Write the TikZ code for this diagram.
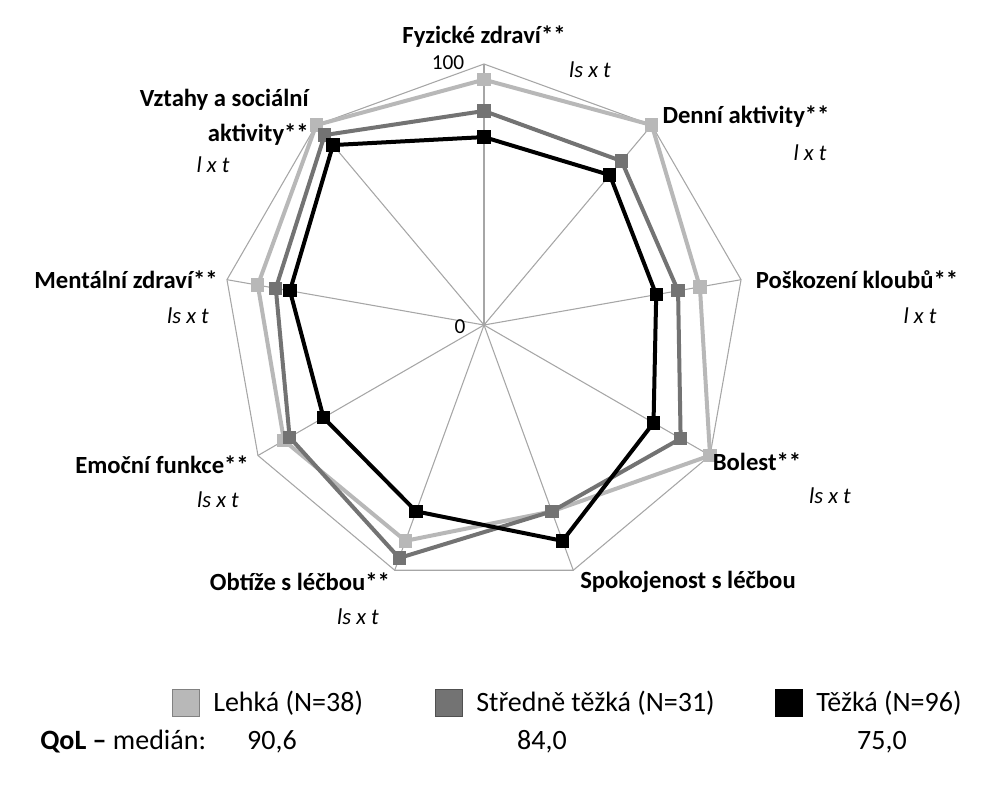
\documentclass[tikz,border=0pt]{standalone}
\usepackage{fontspec}
\setmainfont{Carlito}
\usetikzlibrary{calc}
\begin{document}
\begin{tikzpicture}[x=0.75pt,y=-0.75pt,
  grid/.style={draw=gray!70,line width=0.8pt},
  lab/.style={font=\fontsize{18.5}{22}\selectfont\bfseries,inner sep=0pt},
  sub/.style={font=\fontsize{17}{20}\selectfont\itshape,inner sep=0pt},
  leg/.style={font=\fontsize{21}{24}\selectfont,anchor=west,inner sep=0pt},
  val/.style={font=\fontsize{21}{24}\selectfont,inner sep=0pt},
  mk/.style={minimum size=10pt,inner sep=0pt,draw=none}]
\useasboundingbox (0,0) rectangle (983,800);
\colorlet{cL}{black!28}\colorlet{cM}{black!55}\colorlet{cD}{black}
\def\R{261}
\coordinate (O) at (484,325);
\foreach \i in {0,...,8}{
  \coordinate (v\i) at ($(O)+({sin(40*\i)*\R},{-cos(40*\i)*\R})$);
  \draw[grid] (O) -- (v\i);}
\draw[grid] (v0)--(v1)--(v2)--(v3)--(v4)--(v5)--(v6)--(v7)--(v8)--cycle;
% series
\newcommand\series[3]{%
  \foreach \v [count=\i from 0] in {#2}{
    \coordinate (#1\i) at ($(O)+({sin(40*\i)*\R*\v},{-cos(40*\i)*\R*\v})$);}
  \draw[#3,line width=3pt,line join=round] (#10)--(#11)--(#12)--(#13)--(#14)--(#15)--(#16)--(#17)--(#18)--cycle;
  \foreach \i in {0,...,8}{\node[mk,fill=#3] at (#1\i) {};}}
\series{L}{0.94,1.0,0.84,1.0,0.76,0.88,0.885,0.88,1.0}{cL}
\series{M}{0.82,0.82,0.755,0.87,0.76,0.95,0.86,0.81,0.95}{cM}
\series{D}{0.72,0.75,0.67,0.75,0.88,0.76,0.71,0.755,0.90}{cD}
\node[font=\fontsize{16}{18}\selectfont,inner sep=0pt] (t100) at (448,63) {100};
\node[font=\fontsize{16}{18}\selectfont,inner sep=0pt] (t0) at (460,327) {0};
\node[lab] (a0) at (484,37) {Fyzické zdraví**};
\node[sub] (s0) at (590,70) {ls x t};
\node[lab] (a1) at (746,117) {Denní aktivity**};
\node[sub] (s1) at (810,153) {l x t};
\node[lab] (a2) at (857,280) {Poškození kloubů**};
\node[sub] (s2) at (920,316) {l x t};
\node[lab] (a3) at (757,462) {Bolest**};
\node[sub] (s3) at (830,496) {ls x t};
\node[lab] (a4) at (688,582) {Spokojenost s léčbou};
\node[lab] (a5) at (300,582) {Obtíže s léčbou**};
\node[sub] (s5) at (358,617) {ls x t};
\node[lab] (a6) at (162,465) {Emoční funkce**};
\node[sub] (s6) at (218,500) {ls x t};
\node[lab] (a7) at (126,280) {Mentální zdraví**};
\node[sub] (s7) at (188,316) {ls x t};
\node[lab,align=right,anchor=east] (a8) at (309,117) {Vztahy a sociální\\[4pt]aktivity**};
\node[sub] (s8) at (213,165) {l x t};
% legend
\foreach \x/\c/\n/\t in {186/cL/gL/{Lehká (N=38)},449/cM/gM/{Středně těžká (N=31)},789/cD/gD/{Těžká (N=96)}}{
  \node[minimum size=20pt,inner sep=0pt,fill=\c,draw=\c!70!black,line width=0.6pt] (\n) at (\x,703) {};
  \node[leg] at (\x+27,703) {\t};}
\node[leg] (q) at (40,742) {\textbf{QoL –} medián:};
\node[val] (q1) at (272,742) {90,6};
\node[val] (q2) at (542,742) {84,0};
\node[val] (q3) at (882,742) {75,0};
\end{tikzpicture}
\end{document}
